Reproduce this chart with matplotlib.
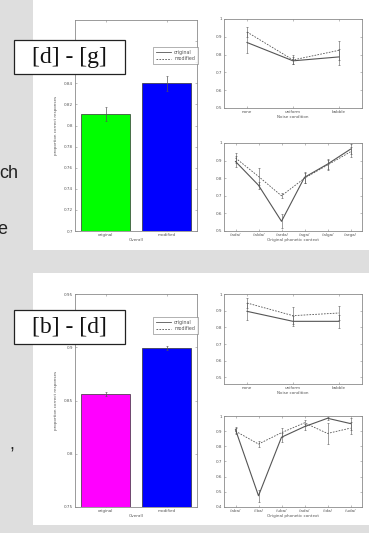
import matplotlib
matplotlib.use("Agg")
import matplotlib.pyplot as plt
from matplotlib.patches import Rectangle
from matplotlib.lines import Line2D

W, H = 369, 533

# ---------------------------------------------------------------- data
BAR_LABELS = ["original", "modified"]
NOISE_LABELS = ["none", "uniform", "babble"]
DG_CONTEXTS = ["/ada/", "/alda/", "/arda/", "/aga/", "/alga/", "/arga/"]
BD_CONTEXTS = ["/aba/", "/iba/", "/uba/", "/ada/", "/ida/", "/uda/"]

DG_OVERALL = [0.811, 0.840]
DG_OVERALL_ERR = [0.007, 0.007]
DG_NOISE_ORIG = [0.868, 0.765, 0.787]
DG_NOISE_ORIG_ERR = [0.06, 0.02, 0.045]
DG_NOISE_MOD = [0.927, 0.770, 0.824]
DG_NOISE_MOD_ERR = [0.03, 0.025, 0.055]
DG_CTX_ORIG = [0.895, 0.76, 0.555, 0.805, 0.88, 0.965]
DG_CTX_ORIG_ERR = [0.03, 0.02, 0.04, 0.03, 0.03, 0.03]
DG_CTX_MOD = [0.915, 0.81, 0.70, 0.80, 0.875, 0.95]
DG_CTX_MOD_ERR = [0.03, 0.05, 0.015, 0.03, 0.03, 0.03]

BD_OVERALL = [0.856, 0.899]
BD_OVERALL_ERR = [0.002, 0.002]
BD_NOISE_ORIG = [0.896, 0.836, 0.836]
BD_NOISE_ORIG_ERR = [0.05, 0.03, 0.04]
BD_NOISE_MOD = [0.946, 0.870, 0.886]
BD_NOISE_MOD_ERR = [0.03, 0.05, 0.04]
BD_CTX_ORIG = [0.91, 0.474, 0.86, 0.93, 0.985, 0.95]
BD_CTX_ORIG_ERR = [0.02, 0.04, 0.03, 0.02, 0.01, 0.04]
BD_CTX_MOD = [0.90, 0.815, 0.89, 0.955, 0.885, 0.92]
BD_CTX_MOD_ERR = [0.02, 0.02, 0.03, 0.02, 0.07, 0.04]

# ---------------------------------------------------------------- style
LINE_COLOR = "#555555"
TICK_COLOR = "#555555"
SPINE_COLOR = "#8a8a8a"
SMALL = 3.0


def axes_px(fig, left, top, right, bottom):
    return fig.add_axes([left / W, 1 - bottom / H,
                         (right - left) / W, (bottom - top) / H])


def matlab_style(ax):
    for s in ax.spines.values():
        s.set_color(SPINE_COLOR)
        s.set_linewidth(0.6)
    ax.tick_params(direction="in", top=True, right=True, length=1.5,
                   width=0.4, colors=SPINE_COLOR, labelcolor=TICK_COLOR,
                   labelsize=SMALL, pad=1.5)


def bar_panel(fig, box, values, errs, colors, ylim, yticks, yfmt):
    ax = axes_px(fig, *box)
    x = range(1, len(values) + 1)
    ax.bar(x, values, width=0.8, color=colors, edgecolor="#333333",
           linewidth=0.5, zorder=2)
    ax.errorbar(x, values, yerr=errs, fmt="none", ecolor=LINE_COLOR,
                elinewidth=0.5, capsize=1, capthick=0.4, zorder=3)
    ax.set_xlim(0.5, len(values) + 0.5)
    ax.set_ylim(*ylim)
    ax.set_xticks(list(x))
    ax.set_xticklabels(BAR_LABELS)
    ax.set_yticks(yticks)
    ax.set_yticklabels([yfmt(v) for v in yticks])
    ax.set_xlabel("Overall", fontsize=SMALL, color=TICK_COLOR, labelpad=1)
    ax.set_ylabel("proportion correct responses", fontsize=SMALL,
                  color=TICK_COLOR, labelpad=4)
    matlab_style(ax)
    return ax


def line_panel(fig, box, labels, orig, orig_err, mod, mod_err,
               ylim, yticks, xlabel):
    ax = axes_px(fig, *box)
    x = list(range(1, len(labels) + 1))
    ax.plot(x, orig, "-", color=LINE_COLOR, lw=0.8)
    ax.plot(x, mod, "--", color=LINE_COLOR, lw=0.6, dashes=(2, 1.5))
    ax.errorbar(x, orig, yerr=orig_err, fmt="none", ecolor=LINE_COLOR,
                elinewidth=0.4, capsize=0.8, capthick=0.4)
    ax.errorbar(x, mod, yerr=mod_err, fmt="none", ecolor=LINE_COLOR,
                elinewidth=0.4, capsize=0.8, capthick=0.4)
    ax.set_xlim(0.5, len(labels) + 0.5)
    ax.set_ylim(*ylim)
    ax.set_xticks(x)
    ax.set_xticklabels(labels)
    ax.set_yticks(yticks)
    ax.set_yticklabels([("%g" % v) for v in yticks])
    ax.set_xlabel(xlabel, fontsize=SMALL, color=TICK_COLOR, labelpad=1)
    matlab_style(ax)
    return ax


def legend_px(fig, left, top):
    handles = [Line2D([], [], color=LINE_COLOR, lw=0.6, ls="-"),
               Line2D([], [], color=LINE_COLOR, lw=0.6, ls=(0, (2, 1.5)))]
    leg = fig.legend(handles, ["original", "modified"], loc="upper left",
                     bbox_to_anchor=(left / W, 1 - top / H),
                     fontsize=3.4, frameon=True, fancybox=False,
                     handlelength=3.2, borderpad=0.6, labelspacing=0.35,
                     handletextpad=0.7, borderaxespad=0)
    leg.set_zorder(12)
    leg.get_frame().set_edgecolor("#777777")
    leg.get_frame().set_linewidth(0.5)
    for t in leg.get_texts():
        t.set_color(TICK_COLOR)


def label_box(fig, text, left, top, right, bottom):
    fig.patches.append(Rectangle((left / W, 1 - bottom / H),
                                 (right - left) / W, (bottom - top) / H,
                                 transform=fig.transFigure, facecolor="white",
                                 edgecolor="#222222", linewidth=0.9,
                                 zorder=10))
    fig.text((left + right) / 2 / W, 1 - (top + bottom) / 2 / H, text,
             family="Liberation Serif", fontsize=17, ha="center",
             va="center", color="#111111", zorder=11)


fig = plt.figure(figsize=(W / 100, H / 100), dpi=100)
fig.patch.set_facecolor("#dedede")

# white slide panels (behind the axes)
for top, bottom in [(0, 250), (273, 525)]:
    fig.patches.append(Rectangle((33 / W, 1 - bottom / H), (W - 33) / W,
                                 (bottom - top) / H, transform=fig.transFigure,
                                 facecolor="white", edgecolor="none",
                                 zorder=-5))

# stray slide text on the left edge
for txt, x, y in [("ch", 18, 173), ("e", 7, 229), (",", 14, 445)]:
    fig.text(x / W, 1 - y / H, txt, family="Liberation Sans", fontsize=13,
             ha="right", va="center", color="#222222")

# ---- [d] - [g]
bar_panel(fig, (75, 20, 197, 231), DG_OVERALL, DG_OVERALL_ERR,
          ["#00ff00", "#0000ff"], (0.7, 0.9),
          [0.7 + 0.02 * i for i in range(10)], lambda v: "%g" % round(v, 2))
line_panel(fig, (224, 19, 362, 108), NOISE_LABELS, DG_NOISE_ORIG,
           DG_NOISE_ORIG_ERR, DG_NOISE_MOD, DG_NOISE_MOD_ERR,
           (0.5, 1.0), [0.5, 0.6, 0.7, 0.8, 0.9, 1.0], "Noise condition")
line_panel(fig, (224, 143, 362, 231), DG_CONTEXTS, DG_CTX_ORIG,
           DG_CTX_ORIG_ERR, DG_CTX_MOD, DG_CTX_MOD_ERR,
           (0.5, 1.0), [0.5, 0.6, 0.7, 0.8, 0.9, 1.0],
           "Original phonetic context")
legend_px(fig, 153, 47)
label_box(fig, "[d] - [g]", 14, 40, 125, 74)

# ---- [b] - [d]
bar_panel(fig, (75, 294, 197, 507), BD_OVERALL, BD_OVERALL_ERR,
          ["#ff00ff", "#0000ff"], (0.75, 0.95),
          [0.75, 0.8, 0.85, 0.9, 0.95], lambda v: "%g" % round(v, 2))
line_panel(fig, (224, 294, 362, 384), NOISE_LABELS, BD_NOISE_ORIG,
           BD_NOISE_ORIG_ERR, BD_NOISE_MOD, BD_NOISE_MOD_ERR,
           (0.46, 1.0), [0.5, 0.6, 0.7, 0.8, 0.9, 1.0], "Noise condition")
line_panel(fig, (224, 416, 362, 507), BD_CONTEXTS, BD_CTX_ORIG,
           BD_CTX_ORIG_ERR, BD_CTX_MOD, BD_CTX_MOD_ERR,
           (0.4, 1.0), [0.4, 0.5, 0.6, 0.7, 0.8, 0.9, 1.0],
           "Original phonetic context")
legend_px(fig, 153, 317)
label_box(fig, "[b] - [d]", 14, 310, 125, 344)

fig.savefig("out.png", dpi=100)
